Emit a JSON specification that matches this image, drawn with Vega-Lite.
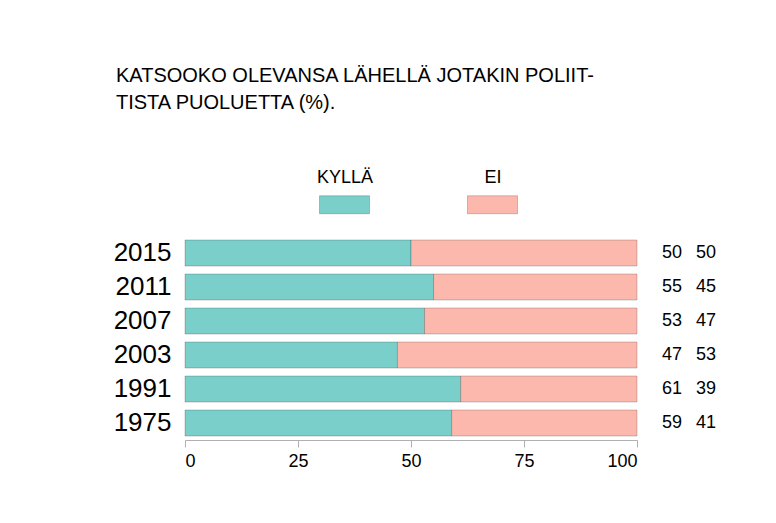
{
  "$schema": "https://vega.github.io/schema/vega-lite/v6.json",
  "autosize": "none",
  "width": 452,
  "height": 204,
  "padding": {"left": 185, "top": 236, "right": 139, "bottom": 83},
  "background": "white",
  "title": {
    "text": ["KATSOOKO OLEVANSA LÄHELLÄ JOTAKIN POLIIT-", "TISTA PUOLUETTA (%)."],
    "anchor": "start",
    "frame": "group",
    "dx": -69,
    "font": "Liberation Sans",
    "fontSize": 20,
    "fontWeight": "normal",
    "color": "#000000",
    "lineHeight": 27,
    "offset": 66
  },
  "data": {
    "values": [
      {"year": "2015", "kylla": 50, "ei": 50},
      {"year": "2011", "kylla": 55, "ei": 45},
      {"year": "2007", "kylla": 53, "ei": 47},
      {"year": "2003", "kylla": 47, "ei": 53},
      {"year": "1991", "kylla": 61, "ei": 39},
      {"year": "1975", "kylla": 59, "ei": 41}
    ]
  },
  "encoding": {
    "y": {
      "field": "year",
      "type": "nominal",
      "sort": null,
      "scale": {"paddingInner": 0.235, "paddingOuter": 0.1175},
      "axis": {
        "title": null,
        "domain": false,
        "ticks": false,
        "labelFontSize": 26,
        "labelFont": "Liberation Sans",
        "labelColor": "#000000",
        "labelPadding": 14
      }
    }
  },
  "layer": [
    {
      "mark": {"type": "bar", "stroke": "rgba(0,0,0,0.2)", "strokeWidth": 1},
      "encoding": {
        "x": {
          "field": "kylla",
          "type": "quantitative",
          "scale": {"domain": [0, 100], "nice": false},
          "axis": {
            "title": null,
            "values": [0, 25, 50, 75, 100],
            "grid": false,
            "domainColor": "#b0b0b0",
            "tickColor": "#b0b0b0",
            "tickSize": 7,
            "labelFontSize": 18,
            "labelFont": "Liberation Sans",
            "labelColor": "#000000",
            "labelPadding": 5
          }
        },
        "color": {
          "datum": "KYLLÄ",
          "type": "nominal",
          "scale": {"domain": ["KYLLÄ", "EI"], "range": ["#7ACFCB", "#FDB8AD"]},
          "legend": {
            "title": null,
            "orient": "none",
            "direction": "horizontal",
            "legendX": 134,
            "legendY": -57,
            "symbolType": "M-1,-0.36H1V0.36H-1Z",
            "symbolSize": 2500,
            "symbolStrokeColor": "rgba(0,0,0,0.2)",
            "symbolStrokeWidth": 1,
            "symbolOpacity": 1,
            "labelFontSize": 18,
            "labelFont": "Liberation Sans",
            "labelColor": "#000000",
            "labelAlign": "center",
            "labelBaseline": "middle",
            "labelOffset": -25,
            "columnPadding": 91,
            "encode": {"labels": {"update": {"dy": {"value": -27}}}}
          }
        }
      }
    },
    {
      "mark": {"type": "bar", "stroke": "rgba(0,0,0,0.2)", "strokeWidth": 1},
      "encoding": {
        "x": {"field": "kylla", "type": "quantitative"},
        "x2": {"datum": 100},
        "color": {"datum": "EI", "type": "nominal"}
      }
    },
    {
      "mark": {"type": "text", "dx": 35, "align": "center", "fontSize": 18, "font": "Liberation Sans", "color": "#000000"},
      "encoding": {
        "x": {"datum": 100, "type": "quantitative"},
        "text": {"field": "kylla", "type": "quantitative"}
      }
    },
    {
      "mark": {"type": "text", "dx": 69, "align": "center", "fontSize": 18, "font": "Liberation Sans", "color": "#000000"},
      "encoding": {
        "x": {"datum": 100, "type": "quantitative"},
        "text": {"field": "ei", "type": "quantitative"}
      }
    }
  ],
  "config": {"view": {"stroke": null}}
}
